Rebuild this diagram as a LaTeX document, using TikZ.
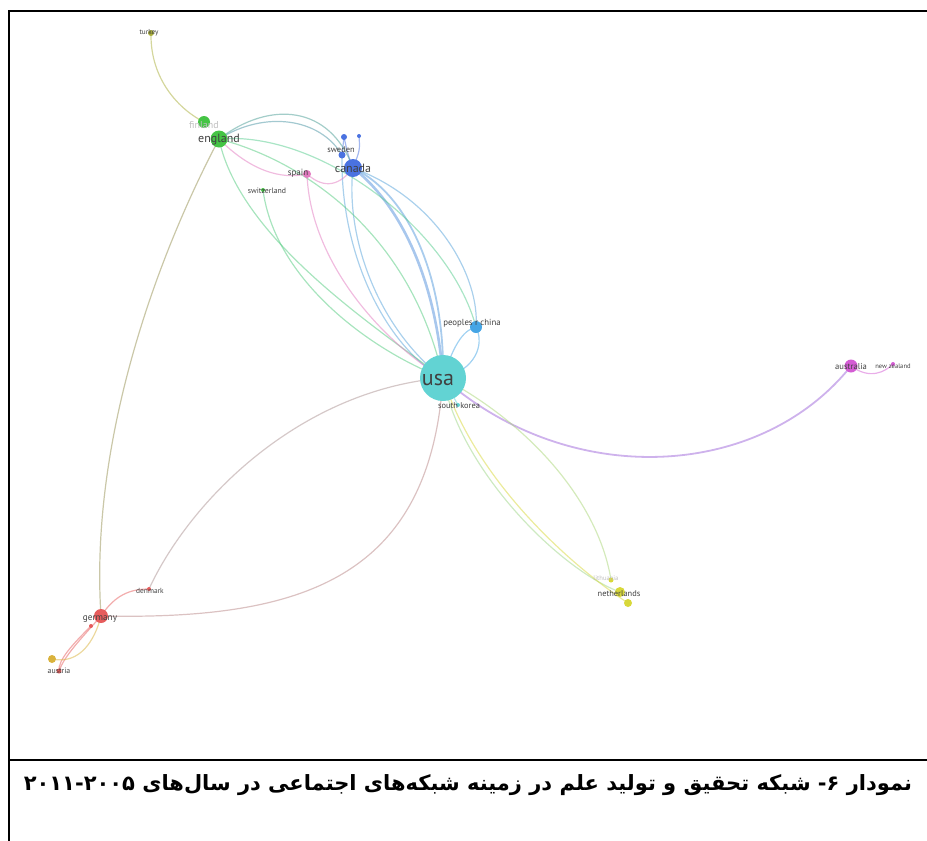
\documentclass[tikz,border=0pt]{standalone}
\usepackage{fontspec}
\usepackage{tikz}
\usetikzlibrary{backgrounds, calc}
\TeXXeTstate=1
\newfontfamily\arabicfont[Script=Arabic]{DejaVu Sans}
\newfontfamily\labelfont{PT Sans}

\definecolor{cUsa}{HTML}{62D3D3}
\definecolor{cCanada}{HTML}{4A72E0}
\definecolor{cChina}{HTML}{45A5E5}
\definecolor{cEngland}{HTML}{45C445}
\definecolor{cSpain}{HTML}{E27AC0}
\definecolor{cAustralia}{HTML}{D45CD4}
\definecolor{cNether}{HTML}{D8D83A}
\definecolor{cGermany}{HTML}{E65C5C}
\definecolor{cAustria}{HTML}{D9B23C}
\definecolor{cTurkey}{HTML}{A9AE3A}

\begin{document}
\begin{tikzpicture}[
			x=0.5pt, y=-0.5pt,
			country/.style={circle, inner sep=0pt, minimum size=#1},
			lbl/.style={font=\labelfont\fontsize{#1}{#1}\selectfont, text=black!75, inner sep=0pt, anchor=base},
			faint/.style={lbl=#1, text=black!25},
			link/.style={line width=0.6pt, draw opacity=0.5}
			]
			\useasboundingbox (0,0) rectangle (927,841);
			
			% --- Ramka i podpis ---
			\draw[line width=1pt] (927,11) -- (9,11) -- (9,841);
			\draw[line width=1pt] (9,760) -- (927,760);
			\node[font=\arabicfont\bfseries\fontsize{10.5}{13}\selectfont] (caption) at (468,785) {\beginR نمودار ۶- شبکه تحقیق و تولید علم در زمینه شبکه‌های اجتماعی در سال‌های \beginL ۲۰۱۱-۲۰۰۵\endL\endR};
			
			% --- Kraje (bąble sieci) ---
			\node[country=23pt, fill=cUsa] (usa) at (443,378) {}; % największy węzeł
			\node[country=6pt, fill=cChina] (china) at (476,327) {};
			\node[country=2pt, fill=cUsa] (korea) at (458,405) {};
			\node[country=9pt, fill=cCanada] (canada) at (353,168) {};
			\node[country=3.5pt, fill=cCanada] (sweden) at (342,155) {};
			\node[country=3pt, fill=cCanada] (blueA) at (344,137) {};
			\node[country=2pt, fill=cCanada] (blueB) at (359,136) {};
			\node[country=4pt, fill=cSpain] (spain) at (307,174) {};
			\node[country=2pt, fill=cEngland] (swiss) at (263,190) {};
			\node[country=8.5pt, fill=cEngland] (england) at (219,139) {};
			\node[country=6pt, fill=cEngland] (finland) at (204,122) {};
			\node[country=3pt, fill=cTurkey] (turkey) at (151,33) {};
			\node[country=6.5pt, fill=cAustralia] (australia) at (851,366) {};
			\node[country=2pt, fill=cAustralia] (nz) at (893,364) {};
			\node[country=5pt, fill=cNether] (netherlands) at (620,592) {};
			\node[country=4pt, fill=cNether] (nethB) at (628,603) {};
			\node[country=2.5pt, fill=cNether] (lithuania) at (611,580) {};
			\node[country=7pt, fill=cGermany] (germany) at (101,616) {};
			\node[country=2pt, fill=cGermany] (gerB) at (91,626) {};
			\node[country=2pt, fill=cGermany] (denmark) at (149,589) {};
			\node[country=4pt, fill=cAustria] (austria) at (52,659) {};
			\node[country=2.5pt, fill=cGermany] (austB) at (59,671) {};
			
			% --- Etykiety ---
			\node[lbl=11] (usa-l) at (438,385) {usa};
			\node[lbl=4.4] (china-l) at (472,325) {peoples r china};
			\node[lbl=4.2] (korea-l) at (459,408) {south korea};
			\node[lbl=6] (canada-l) at (353,172) {canada};
			\node[lbl=4.2] (sweden-l) at (341,152) {sweden};
			\node[lbl=4.5] (spain-l) at (298,175) {spain};
			\node[lbl=3.9] (swiss-l) at (267,193) {switzerland};
			\node[lbl=6] (england-l) at (219,142) {england};
			\node[faint=5] (finland-l) at (204,128) {finland};
			\node[lbl=3.6] (turkey-l) at (149,34) {turkey};
			\node[lbl=4.3] (australia-l) at (851,369) {australia};
			\node[lbl=3.3] (nz-l) at (893,368) {new zealand};
			\node[faint=3.3] (lithuania-l) at (606,580) {lithuania};
			\node[lbl=4.2] (netherlands-l) at (619,596) {netherlands};
			\node[lbl=4.6] (germany-l) at (100,620) {germany};
			\node[lbl=3.7] (denmark-l) at (150,593) {denmark};
			\node[lbl=3.9] (austria-l) at (59,673) {austria};
			
			% --- Połączenia (pod węzłami) ---
			\begin{scope}[on background layer]
			% usa - kanada
			\draw[link, cCanada!70!cUsa, line width=1.3pt] (canada.center) .. controls (395,200) and (435,270) .. (usa.center);
			\draw[link, cCanada!60!cUsa, line width=0.9pt] (canada.center) .. controls (410,195) and (445,280) .. (usa.center);
			\draw[link, cCanada!50!cUsa] (canada.center) .. controls (345,240) and (380,330) .. (usa.center);
			\draw[link, cCanada!50!cUsa] (canada.center) .. controls (440,200) and (480,280) .. (china.center);
			\draw[link, cCanada!50!cUsa] (sweden.center) .. controls (340,260) and (390,350) .. (usa.center);
			\draw[link, cCanada] (blueA.center) -- (sweden.center);
			\draw[link, cCanada] (blueB.center) .. controls (360,150) .. (canada.center);
			\draw[link, cCanada] (blueA.center) .. controls (348,155) .. (canada.center);
			% anglia
			\draw[link, cEngland!50!cCanada] (england.center) .. controls (270,100) and (330,105) .. (canada.center);
			\draw[link, cEngland!40!cCanada] (england.center) .. controls (265,110) and (320,118) .. (sweden.center);
			\draw[link, cEngland!60!cUsa] (england.center) .. controls (300,160) and (410,230) .. (usa.center);
			\draw[link, cEngland!60!cUsa] (england.center) .. controls (240,240) and (380,330) .. (usa.center);
			\draw[link, cEngland!60!cUsa] (swiss.center) .. controls (275,280) and (370,350) .. (usa.center);
			\draw[link, cEngland!50!cUsa] (england.center) .. controls (320,130) and (450,230) .. (china.center);
			\draw[link, cSpain] (england.center) .. controls (250,170) and (280,180) .. (spain.center);
			\draw[link, cSpain] (spain.center) .. controls (325,190) and (340,185) .. (canada.center);
			\draw[link, cSpain] (spain.center) .. controls (310,260) and (380,340) .. (usa.center);
			\draw[link, cTurkey] (turkey.center) .. controls (150,80) and (180,110) .. (finland.center);
			\draw[link, cEngland!50!cGermany] (england.center) .. controls (150,270) and (90,450) .. (germany.center);
			% niemcy
			\draw[link, cGermany!65!cUsa] (germany.center) .. controls (300,620) and (430,580) .. (usa.center);
			\draw[link, cGermany!55!cUsa] (denmark.center) .. controls (190,500) and (300,390) .. (usa.center);
			\draw[link, cGermany] (germany.center) .. controls (115,595) and (130,589) .. (denmark.center);
			\draw[link, cGermany] (germany.center) .. controls (80,640) and (65,655) .. (austB.center);
			\draw[link, cGermany] (gerB.center) .. controls (72,645) and (58,660) .. (austB.center);
			\draw[link, cAustria] (austria.center) .. controls (80,665) and (95,640) .. (germany.center);
			% australia, holandia, chiny
			\draw[link, cCanada!40!cAustralia, line width=0.9pt] (usa.center) .. controls (570,490) and (760,480) .. (australia.center);
			\draw[link, cAustralia] (australia.center) .. controls (870,380) and (885,372) .. (nz.center);
			\draw[link, cUsa!50!cNether] (usa.center) .. controls (460,470) and (560,570) .. (netherlands.center);
			\draw[link, cUsa!40!cNether] (usa.center) .. controls (540,430) and (600,510) .. (lithuania.center);
			\draw[link, cNether] (usa.center) .. controls (475,480) and (570,565) .. (nethB.center);
			\draw[link, cChina] (usa.center) .. controls (455,340) and (465,330) .. (china.center);
			\draw[link, cChina] (usa.center) .. controls (475,370) and (485,345) .. (china.center);
			\draw[link, cUsa] (usa.center) -- (korea.center);
			\end{scope}
			
		\end{tikzpicture}
\end{document}
